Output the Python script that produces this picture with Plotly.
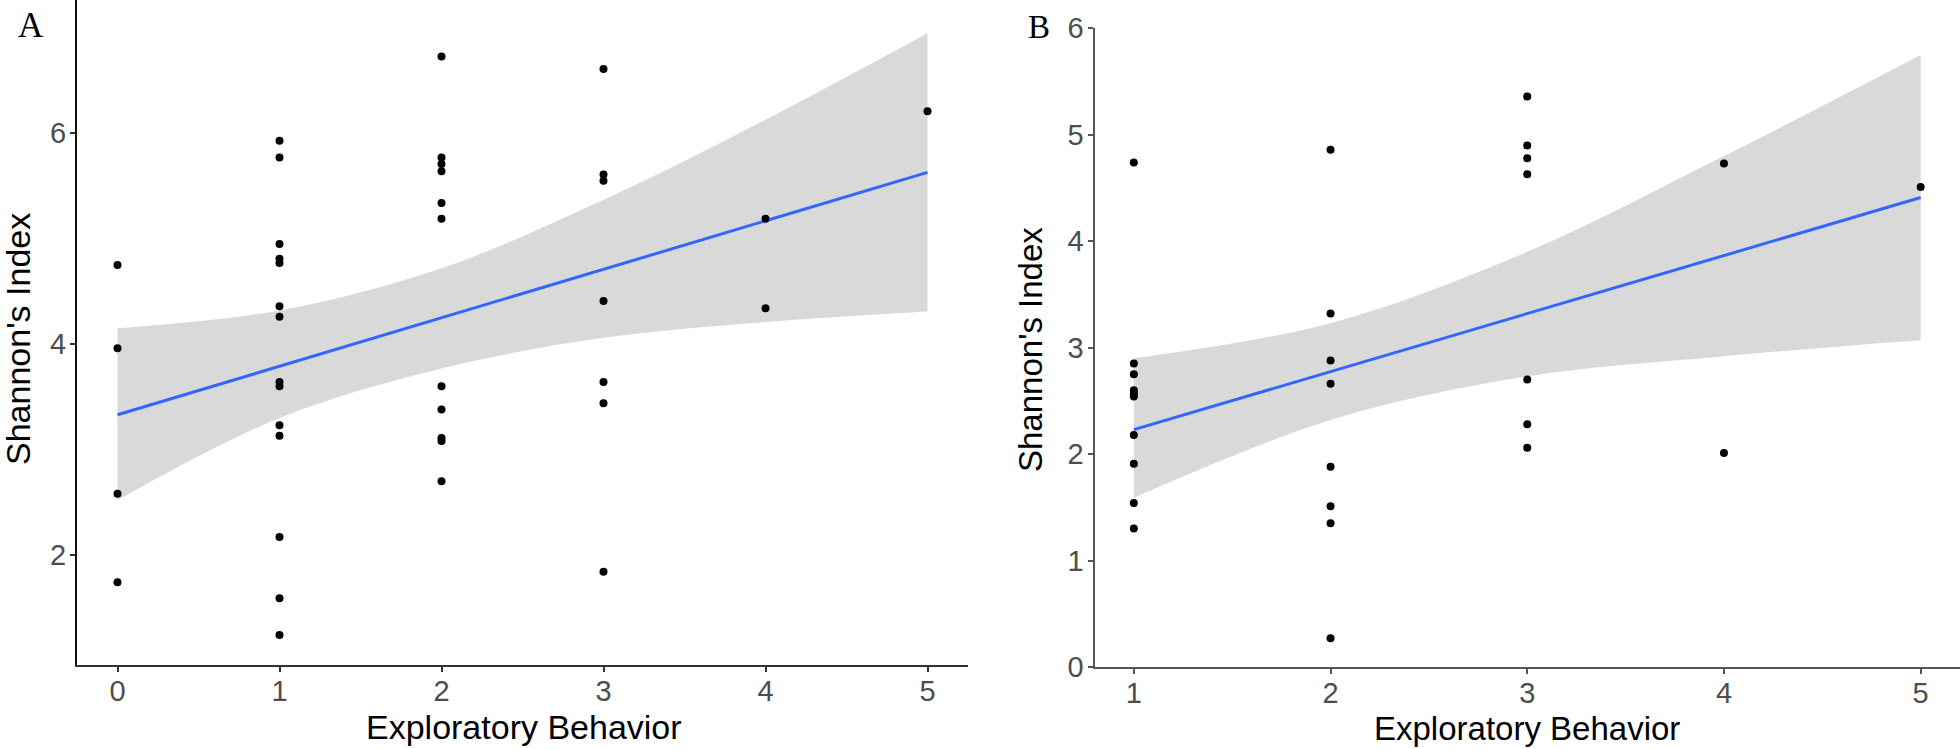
import plotly.graph_objects as go

# ---------------- Panel A data ----------------
a_behavior = [0, 0, 0, 0,
              1, 1, 1, 1, 1, 1, 1, 1, 1, 1, 1, 1, 1, 1,
              2, 2, 2, 2, 2, 2, 2, 2, 2, 2, 2,
              3, 3, 3, 3, 3, 3, 3,
              4, 4,
              5]
a_shannon = [4.75, 3.96, 2.58, 1.74,
             5.93, 5.77, 4.95, 4.81, 4.77, 4.36, 4.26, 3.64, 3.60, 3.23, 3.13, 2.17, 1.59, 1.24,
             6.73, 5.77, 5.71, 5.64, 5.34, 5.19, 3.60, 3.38, 3.11, 3.08, 2.70,
             6.61, 5.61, 5.55, 4.41, 3.64, 3.44, 1.84,
             5.19, 4.34,
             6.21]
# fitted line and 95% band
a_fit_x = [0, 5]
a_fit_y = [3.33, 5.63]
a_band_x = [0, 1, 2, 3, 4, 5]
a_band_upper = [4.15, 4.32, 4.72, 5.37, 6.13, 6.95]
a_band_lower = [2.52, 3.30, 3.77, 4.06, 4.21, 4.31]
a_xticks = [0, 1, 2, 3, 4, 5]
a_yticks = [2, 4, 6]

# ---------------- Panel B data ----------------
b_behavior = [1, 1, 1, 1, 1, 1, 1, 1, 1, 1,
              2, 2, 2, 2, 2, 2, 2, 2,
              3, 3, 3, 3, 3, 3, 3,
              4, 4,
              5]
b_shannon = [4.74, 2.85, 2.75, 2.60, 2.57, 2.54, 2.18, 1.91, 1.54, 1.30,
             4.86, 3.32, 2.88, 2.66, 1.88, 1.51, 1.35, 0.27,
             5.36, 4.90, 4.78, 4.63, 2.70, 2.28, 2.06,
             4.73, 2.01,
             4.51]
b_fit_x = [1, 5]
b_fit_y = [2.23, 4.41]
b_band_x = [1, 2, 3, 4, 5]
b_band_upper = [2.90, 3.23, 3.90, 4.80, 5.75]
b_band_lower = [1.59, 2.32, 2.73, 2.92, 3.07]
b_xticks = [1, 2, 3, 4, 5]
b_yticks = [0, 1, 2, 3, 4, 5, 6]

x_title = "Exploratory Behavior"
y_title = "Shannon's Index"
panel_labels = ["A", "B"]

W, H = 1960, 749
BAND = "#D9D9D9"
LINE = "#3366FF"

fig = go.Figure()


def add_panel(xa, ya, bx, bu, bl, fx, fy, px, py):
    fig.add_trace(go.Scatter(x=bx, y=bl, mode="lines", line=dict(width=0, color=BAND, shape="spline"),
                             xaxis=xa, yaxis=ya, showlegend=False, hoverinfo="skip"))
    fig.add_trace(go.Scatter(x=bx, y=bu, mode="lines", line=dict(width=0, color=BAND, shape="spline"),
                             fill="tonexty", fillcolor=BAND,
                             xaxis=xa, yaxis=ya, showlegend=False, hoverinfo="skip"))
    fig.add_trace(go.Scatter(x=fx, y=fy, mode="lines", line=dict(width=3, color=LINE),
                             xaxis=xa, yaxis=ya, showlegend=False))
    fig.add_trace(go.Scatter(x=px, y=py, mode="markers", marker=dict(size=8, color="black"),
                             xaxis=xa, yaxis=ya, showlegend=False))


add_panel("x", "y", a_band_x, a_band_upper, a_band_lower, a_fit_x, a_fit_y, a_behavior, a_shannon)
add_panel("x2", "y2", b_band_x, b_band_upper, b_band_lower, b_fit_x, b_fit_y, b_behavior, b_shannon)

tickfont = dict(family="Liberation Sans, Arial, sans-serif", size=29, color="#4D4D4D")
common = dict(showgrid=False, zeroline=False, showline=True, linewidth=2,
              ticks="outside", ticklen=5, tickwidth=1.5, tickfont=tickfont, automargin=False)

fig.update_layout(
    width=W, height=H,
    margin=dict(l=0, r=0, t=0, b=0),
    paper_bgcolor="white", plot_bgcolor="white",
    xaxis=dict(domain=[77 / W, 968 / W], range=[-0.25, 5.25], tickvals=a_xticks,
               linecolor="#333333", tickcolor="#333333", anchor="y", ticklabelstandoff=-6, **common),
    yaxis=dict(domain=[(H - 665) / H, 1.0], range=[0.956, 7.265], tickvals=a_yticks,
               linecolor="#111111", tickcolor="#333333", anchor="x", ticklabelstandoff=-2, **common),
    xaxis2=dict(domain=[1094.5 / W, 1.0], range=[0.8, 5.2], tickvals=b_xticks,
                linecolor="#555555", tickcolor="#555555", anchor="y2", ticklabelstandoff=-6, **common),
    yaxis2=dict(domain=[(H - 667) / H, (H - 28.3) / H], range=[0, 6], tickvals=b_yticks,
                linecolor="#555555", tickcolor="#555555", anchor="x2", ticklabelstandoff=-2, **common),
)

title_font = dict(family="Liberation Sans, Arial, sans-serif", size=34, color="black")
label_font = dict(family="Liberation Serif, Times New Roman, serif", size=35, color="black")

annotations = [
    dict(text=x_title, x=523.5 / W, y=1 - 727 / H, xref="paper", yref="paper",
         xanchor="center", yanchor="middle", showarrow=False, font=title_font),
    dict(text=x_title, x=1527 / W, y=1 - 728 / H, xref="paper", yref="paper",
         xanchor="center", yanchor="middle", showarrow=False, font=dict(title_font, size=33)),
    dict(text=y_title, x=18 / W, y=1 - 339 / H, xref="paper", yref="paper", textangle=-90,
         xanchor="center", yanchor="middle", showarrow=False, font=title_font),
    dict(text=y_title, x=1030 / W, y=1 - 350 / H, xref="paper", yref="paper", textangle=-90,
         xanchor="center", yanchor="middle", showarrow=False, font=dict(title_font, size=33)),
    dict(text=panel_labels[0], x=31 / W, y=1 - 26 / H, xref="paper", yref="paper",
         xanchor="center", yanchor="middle", showarrow=False, font=label_font),
    dict(text=panel_labels[1], x=1039 / W, y=1 - 27 / H, xref="paper", yref="paper",
         xanchor="center", yanchor="middle", showarrow=False, font=dict(label_font, size=33)),
]
fig.update_layout(annotations=annotations)

fig.write_html("out.html", config={"displayModeBar": False},
               post_script="document.body.style.margin='0';document.body.style.overflow='hidden';")
